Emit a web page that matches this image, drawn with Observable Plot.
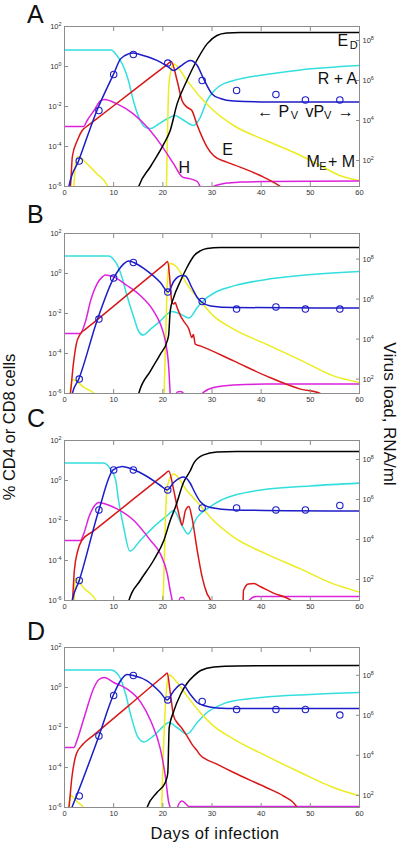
<!DOCTYPE html>
<html><head><meta charset="utf-8">
<script src="https://cdn.jsdelivr.net/npm/d3@7"></script>
<script src="https://cdn.jsdelivr.net/npm/@observablehq/plot@0.6"></script>
<style>
body{margin:0;background:#fff;}
#wrap{position:relative;width:400px;height:844px;overflow:hidden;background:#fff;}
#wrap svg.panel{position:absolute;left:0;}
#over{position:absolute;left:0;top:0;pointer-events:none;}
</style></head>
<body><div id="wrap"></div>
<script>
// ---------- data (all values are log10) ----------
const X_TICKS = [0, 10, 20, 30, 40, 50, 60];
const LEFT_TICK_EXP = [-6, -4, -2, 0, 2];
const RIGHT_TICK_EXP = [2, 4, 6, 8];
const OBS_DAYS = [3, 7, 10, 14, 21, 28, 35, 43, 49, 56];

// Panel A  ([day, log10 % cells]; virus in log10 RNA/ml)
const A_cyan = [[0,0.83],[9.5,0.83],[10.5,0.6],[12,0.0],[13,-0.7],[14,-1.7],[15.4,-2.7],[16.5,-3.05],[17.5,-3.1],[19,-2.9],[21,-2.6],[22.5,-2.45],[24,-2.65],[26.3,-2.95],[27.5,-2.6],[29,-1.7],[30.3,-1.25],[31.7,-0.95],[34.4,-0.7],[41,-0.4],[48,-0.17],[60,0.05]];
const A_red = [[0.5,-6.6],[1.2,-6],[1.6,-4.5],[2.6,-3.7],[3.6,-3.2],[4.5,-3.0],[6,-2.72],[13,-1.39],[20.8,0.08],[21.7,0.25],[22.9,-0.7],[23.9,-1.7],[24.9,-2.03],[25.9,-2.2],[26.9,-2.87],[28,-3.53],[29,-4.03],[30.3,-4.45],[33,-4.78],[35.7,-5.03],[39.8,-5.45],[43.9,-6],[45,-6.2]];
const A_yellow = [[1.8,-6.5],[2.2,-5.0],[2.7,-4.5],[4.6,-4.87],[6.6,-5.37],[8.7,-5.95],[9.2,-6.3],[15,null],[20.7,-6.5],[20.9,-4],[21.2,-1.0],[21.5,-0.37],[22.2,0.13],[24.9,-0.7],[27.6,-1.53],[30.3,-2.2],[34.4,-2.95],[41,-3.7],[48,-4.45],[52,-4.95],[56,-5.45],[60,-5.7]];
const A_magenta = [[0,-3.0],[3.9,-3.0],[4.6,-2.7],[6,-2.2],[7.3,-1.72],[8.1,-1.65],[10.7,-1.87],[14,-2.37],[16.8,-3.03],[19.5,-3.87],[22.2,-4.87],[24,-5.53],[25.6,-5.62],[27,-5.75],[27.6,-6],[28.8,-6.3],[30.3,-6.0],[33,-5.83],[35.7,-5.78],[41,-5.75],[60,-5.72]];
const A_black = [[14.5,-6.5],[15.1,-6],[17.5,-5.0],[20.2,-3.87],[21.5,-3.2],[22.9,-1.87],[24.9,-0.7],[26.9,0.3],[29,1.13],[31,1.55],[33,1.67],[35.7,1.7],[60,1.7]];
const A_virus = [[0.5,0.1],[0.9,0.7],[2.9,2.0],[6.6,4.5],[10,6.33],[11.4,7.08],[13,7.33],[14,7.37],[16,7.25],[19.5,6.92],[21,6.7],[22.2,6.5],[23.5,6.7],[25.6,7.0],[27,6.75],[28.3,6.08],[30,5.33],[31.7,5.1],[34.4,4.97],[40,4.93],[60,4.92]];
const A_obs = [1.97,4.5,6.3,7.3,6.87,6.0,5.5,5.3,5.03,5.03];

// Panel B
const B_cyan = [[0,0.87],[9,0.87],[10,0.7],[10.8,0.4],[11.7,-0.2],[12.7,-1.1],[14.1,-2.2],[15.1,-2.9],[16,-3.08],[17.5,-2.78],[19.5,-2.37],[20.9,-2.03],[21.8,-1.9],[23.6,-2.03],[25.3,-2.23],[27,-1.7],[28.3,-1.35],[31,-0.9],[34.4,-0.62],[41,-0.3],[48,-0.1],[60,0.1]];
const B_red = [[0.8,-6.6],[1.2,-6],[1.8,-4.53],[2.4,-3.53],[3.2,-3.03],[4.3,-2.78],[6,-2.44],[13,-1.02],[20.3,0.46],[21,0.6],[21.5,-0.53],[21.8,-1.37],[22.2,-1.53],[22.5,-1.45],[22.9,-1.7],[23.6,-2.12],[24.2,-2.37],[25.3,-2.78],[25.9,-3.2],[26.2,-3.05],[26.6,-3.53],[27.6,-3.62],[34.4,-4.37],[41,-5.12],[48,-5.78],[52,-6],[53,-6.2]];
const B_yellow = [[1.0,-6.5],[1.3,-5.6],[1.7,-5.3],[2.5,-5.4],[4,-5.7],[6,-6],[6.3,-6.3],[12,null],[20.2,-6.5],[20.5,-4],[20.9,-0.53],[21.2,0.3],[21.5,0.5],[22.9,0.3],[24.9,-0.53],[27.6,-1.37],[30.3,-2.12],[34.4,-2.78],[41,-3.53],[48,-4.33],[54.7,-5.12],[60,-5.45]];
const B_magenta = [[0,-3.0],[3.2,-3.0],[4.3,-2.37],[5.3,-1.37],[6.6,-0.53],[7.7,-0.17],[8.3,-0.07],[10,-0.17],[12.7,-0.6],[15.4,-1.1],[18.1,-1.87],[19.5,-2.53],[20.5,-3.37],[21.2,-4.7],[21.5,-6],[21.8,-6.5],[22.0,null],[22.3,-6.3],[23,-5.92],[23.6,-5.9],[24.2,-6.0],[24.8,-6.3],[25.5,null],[27.2,-6.3],[28,-6.0],[30.3,-5.7],[34.4,-5.57],[41,-5.53],[60,-5.53]];
const B_black = [[14.6,-6.5],[15.1,-6],[17.5,-4.87],[19.5,-4.03],[20.9,-3.37],[21.2,-3.03],[21.5,-1.87],[22.2,-1.2],[23.6,-0.37],[24.9,0.3],[26.3,0.88],[27.6,1.13],[29,1.25],[31.7,1.3],[60,1.3]];
const B_virus = [[1.2,0.68],[1.6,1.28],[2.9,2.0],[6.6,4.91],[10,7.05],[12,7.75],[13,7.91],[14.1,7.83],[16.8,7.41],[19.5,6.83],[21.1,6.36],[22.2,6.88],[23.9,7.18],[24.6,7.16],[25.9,6.58],[27,6.08],[28,5.83],[29.7,5.66],[34.4,5.58],[60,5.55]];
const B_obs = [2.0,5.0,7.05,7.83,6.35,5.88,5.5,5.61,5.5,5.5];

// Panel C
const C_cyan = [[0,0.88],[8,0.88],[9.4,0.55],[10.4,0.03],[11,-1.0],[12,-2.3],[13.3,-3.53],[15.4,-3.0],[18.1,-2.33],[20.9,-1.75],[22.2,-1.5],[23.9,-2.25],[25.1,-2.67],[27,-1.83],[29,-1.42],[31.7,-1.0],[34.4,-0.75],[40,-0.47],[50,-0.27],[60,-0.13]];
const C_red = [[0.9,-6.6],[1.6,-6],[2.0,-4.5],[2.6,-3.6],[3.5,-3.0],[6,-2.51],[13,-1.13],[20.5,0.34],[21.2,0.48],[22.2,-0.47],[22.9,-1.3],[23.6,-2.0],[23.9,-2.25],[24.6,-1.5],[25.3,-1.3],[25.9,-1.83],[27,-3.5],[28,-4.83],[29,-5.67],[29.7,-6],[30,-6.4],[33,null],[36.3,-6.3],[36.4,-5.5],[37.4,-5.17],[38.5,-5.15],[39.8,-5.3],[42.5,-5.63],[45.9,-5.97],[46.5,-6.2]];
const C_yellow = [[1.9,-6.5],[2.2,-4.9],[4,-5.4],[6.4,-6],[6.8,-6.3],[12,null],[20,-6.5],[20.3,-4],[20.6,-1.5],[20.9,-0.3],[22.2,0.33],[24.9,-0.5],[27.6,-1.25],[30.3,-2.0],[34.4,-2.83],[41,-3.67],[48,-4.42],[54.7,-5.17],[60,-5.58]];
const C_magenta = [[0,-3],[3.2,-3],[4,-2.6],[5,-1.8],[6,-1.3],[7,-1.1],[8,-1.15],[10.7,-1.42],[14.1,-2.0],[17.5,-3.0],[19.5,-3.67],[20.9,-4.67],[21.5,-5.5],[21.9,-6],[22.2,-6.4],[22.6,null],[23,-6.3],[23.6,-5.85],[24.2,-5.85],[24.6,-6.3],[30,null],[36.8,-6.3],[37.5,-6],[39,-5.8],[60,-5.8]];
const C_black = [[12.6,-6.5],[13.1,-6],[15.4,-5.0],[18.1,-4.0],[20.2,-3.0],[21.5,-2.0],[22.6,-1.3],[24.2,-0.1],[25.6,0.5],[26.3,0.87],[28.3,1.28],[31,1.42],[35,1.45],[60,1.45]];
const C_virus = [[1.2,0.35],[1.6,0.95],[3,1.95],[7,5.48],[9.9,7.48],[11.7,7.65],[14,7.5],[16.8,7.15],[19.5,6.7],[20.9,6.48],[22.2,6.85],[24.3,7.12],[25.6,6.8],[26.3,6.45],[27.6,5.9],[29.7,5.6],[34.4,5.48],[60,5.42]];
const C_obs = [1.95,5.48,7.48,7.48,6.48,5.58,5.58,5.48,5.48,5.7];

// Panel D
const D_cyan = [[0,0.88],[9.4,0.88],[11,0.62],[12.4,-0.3],[13.4,-1.3],[14.8,-2.42],[16.1,-2.72],[18.1,-2.42],[20.2,-1.92],[21.2,-1.75],[22.9,-2.0],[24.9,-2.33],[27,-1.75],[29,-1.25],[31.7,-0.88],[33,-0.75],[40,-0.5],[50,-0.35],[60,-0.25]];
const D_red = [[0.5,-6.6],[0.9,-6],[1.5,-4.5],[2.4,-3.33],[3.8,-2.83],[6,-2.37],[13,-0.92],[20.3,0.6],[20.9,0.72],[21.5,-0.25],[22.2,-1.42],[22.9,-1.75],[23.9,-2.05],[24.9,-2.42],[25.9,-2.83],[27,-3.17],[27.6,-3.38],[31,-3.83],[34.4,-4.25],[41,-5.0],[44.5,-5.42],[47.1,-5.92],[47.5,-6.2]];
const D_yellow = [[0.7,-6.4],[1.0,-5.7],[1.3,-5.4],[2.5,-5.7],[3.8,-6],[4.2,-6.3],[10,null],[19.7,-6.5],[20,-4],[20.5,-1],[20.9,0.25],[21.3,0.62],[22.9,0.25],[24.9,-0.42],[27.6,-1.25],[30.3,-1.92],[34.4,-2.58],[41,-3.42],[48,-4.25],[54.7,-5.0],[60,-5.42]];
const D_magenta = [[0,-3],[1.9,-3],[2.6,-2.6],[4,-1.5],[6,0.0],[7,0.4],[8.1,0.5],[10,0.25],[12.7,-0.07],[15.5,-0.73],[17.5,-1.65],[19.5,-3.08],[20.5,-4.42],[21.2,-5.75],[21.5,-6],[21.8,-6.4],[22.2,null],[22.6,-6.3],[23.3,-5.8],[23.9,-5.67],[24.6,-5.8],[25.3,-5.95],[27,-5.95],[60,-5.95]];
const D_black = [[16.3,-6.5],[16.8,-6],[18.8,-5.25],[20.5,-4.75],[21.0,-4.3],[21.3,-2.0],[22.2,-1.2],[23.6,-0.35],[24.9,0.2],[26.3,0.58],[27.7,0.85],[30.4,1.03],[35,1.08],[60,1.1]];
const D_virus = [[1.0,1.09],[1.5,1.39],[7,4.97],[9.9,6.99],[11.3,7.69],[12.7,8.04],[14,7.99],[16.8,7.72],[19.5,7.14],[20.9,6.77],[22.2,7.22],[23.9,7.56],[25.6,7.04],[27,6.64],[28.3,6.49],[31,6.37],[35,6.34],[60,6.34]];
const D_obs = [1.97,4.97,6.99,7.99,6.77,6.69,6.29,6.29,6.29,6.01];

// Curve labels in panel A: [text, day, log10 value]
const A_LABELS_BIG = [["E",55.5,1.3],["R + A",51.5,-0.6],["\u2190",39.2,-2.25],["P",43.5,-2.25],["vP",49.0,-2.25],["\u2192",55.6,-2.25],["E",32.1,-4.15],["H",23.2,-5.05],["M",49.2,-4.75],["+ M",53.6,-4.75]];
const A_LABELS_SUB = [["D",58.0,1.05],["V",46.0,-2.45],["V",52.8,-2.45],["E",51.8,-4.98]];

// ---------- rendering ----------
const COL = {cyan:"#33dede", blue:"#1c1cc8", red:"#d81818", yellow:"#ecec1e", magenta:"#dd22dd", black:"#000000"};
const FONT = "'Liberation Sans', Arial, Helvetica, sans-serif";

const PANELS = [
  {letter:"A", frameTop:26,    letterBase:23,  offset:6.7,  cyan:A_cyan, red:A_red, yellow:A_yellow, magenta:A_magenta, black:A_black, virus:A_virus, obs:A_obs, big:A_LABELS_BIG, sub:A_LABELS_SUB},
  {letter:"B", frameTop:232.7, letterBase:223, offset:7.28, cyan:B_cyan, red:B_red, yellow:B_yellow, magenta:B_magenta, black:B_black, virus:B_virus, obs:B_obs},
  {letter:"C", frameTop:440,   letterBase:427, offset:6.95, cyan:C_cyan, red:C_red, yellow:C_yellow, magenta:C_magenta, black:C_black, virus:C_virus, obs:C_obs},
  {letter:"D", frameTop:646.7, letterBase:640, offset:7.39, cyan:D_cyan, red:D_red, yellow:D_yellow, magenta:D_magenta, black:D_black, virus:D_virus, obs:D_obs}
];

const MT = 20, MB = 20, H = 200;

function superscripts(svg) {
  svg.querySelectorAll("text").forEach(t => {
    const m = /^10\^(-?\d+)$/.exec(t.textContent);
    if (!m) return;
    while (t.firstChild) t.removeChild(t.firstChild);
    t.appendChild(document.createTextNode("10"));
    const s = document.createElementNS("http://www.w3.org/2000/svg", "tspan");
    s.setAttribute("dy", "-0.5em");
    s.setAttribute("font-size", "0.72em");
    s.textContent = m[1];
    t.appendChild(s);
  });
}

function buildPanel(p) {
  // y is a linear scale of log10 values (domain 10^-6 .. 10^2)
  const pts = arr => arr.map(([d, v]) => ({day: d, val: v == null ? NaN : v}));
  const vir = arr => arr.map(([d, v]) => ({day: d, val: v - p.offset}));
  const obs = OBS_DAYS.map((d, i) => ({day: d, val: p.obs[i] - p.offset}));
  const line = (data, stroke) => Plot.line(data, {x: "day", y: "val", stroke, strokeWidth: 1.5, curve: "monotone-x", clip: true});
  const marks = [
    line(pts(p.cyan), COL.cyan),
    line(pts(p.yellow), COL.yellow),
    line(pts(p.magenta), COL.magenta),
    line(pts(p.red), COL.red),
    line(pts(p.black), COL.black),
    line(vir(p.virus), COL.blue),
    Plot.dot(obs, {x: "day", y: "val", r: 3.2, stroke: COL.blue, strokeWidth: 1.1, fill: "none"}),
    Plot.frame({stroke: "#8c8c8c"}),
    Plot.axisX({anchor: "bottom", ticks: X_TICKS, tickSize: -4, tickPadding: 7, stroke: "#8c8c8c", fill: "#333", label: null}),
    Plot.axisX({anchor: "top", ticks: X_TICKS, tickSize: -4, tickFormat: () => "", stroke: "#8c8c8c", label: null}),
    Plot.axisY({anchor: "left", ticks: LEFT_TICK_EXP, tickFormat: d => "10^" + Math.round(d), tickSize: -4, tickPadding: 7, stroke: "#8c8c8c", fill: "#333", label: null}),
    Plot.axisY({anchor: "right", ticks: RIGHT_TICK_EXP.map(e => e - p.offset), tickFormat: d => "10^" + Math.round(d + p.offset), tickSize: -4, tickPadding: 7, stroke: "#8c8c8c", fill: "#333", label: null})
  ];
  if (p.big) {
    marks.push(Plot.text(p.big, {x: d => d[1], y: d => d[2], text: d => d[0], textAnchor: "start", fontSize: 16, fill: "#111"}));
    marks.push(Plot.text(p.sub, {x: d => d[1], y: d => d[2], text: d => d[0], textAnchor: "start", fontSize: 11, fill: "#111"}));
  }
  const svg = Plot.plot({
    width: 400, height: H,
    marginLeft: 64, marginRight: 41, marginTop: MT, marginBottom: MB,
    x: {domain: [0, 60], label: null},
    y: {type: "linear", domain: [-6, 2], label: null},
    style: {fontFamily: FONT, fontSize: "7.5px", background: "transparent", overflow: "visible"},
    marks
  });
  svg.classList.add("panel");
  svg.style.top = (p.frameTop - MT) + "px";
  superscripts(svg);
  return svg;
}

const wrap = document.getElementById("wrap");
PANELS.forEach(p => wrap.appendChild(buildPanel(p)));

// overlay text: panel letters and axis titles
const NS = "http://www.w3.org/2000/svg";
const over = document.createElementNS(NS, "svg");
over.setAttribute("id", "over");
over.setAttribute("width", 400);
over.setAttribute("height", 844);
function addText(str, attrs) {
  const t = document.createElementNS(NS, "text");
  t.textContent = str;
  t.setAttribute("font-family", FONT);
  t.setAttribute("fill", "#111");
  for (const k in attrs) t.setAttribute(k, attrs[k]);
  over.appendChild(t);
}
PANELS.forEach(p => addText(p.letter, {x: 27, y: p.letterBase, "font-size": 25}));
addText("% CD4 or CD8 cells", {transform: "translate(14.5,427) rotate(-90)", "text-anchor": "middle", "font-size": 16.5});
addText("Virus load, RNA/ml", {transform: "translate(384,414) rotate(90)", "text-anchor": "middle", "font-size": 17});
addText("Days of infection", {x: 215, y: 839, "text-anchor": "middle", "font-size": 16.5, "letter-spacing": "0.4"});
wrap.appendChild(over);
</script>
</body></html>
